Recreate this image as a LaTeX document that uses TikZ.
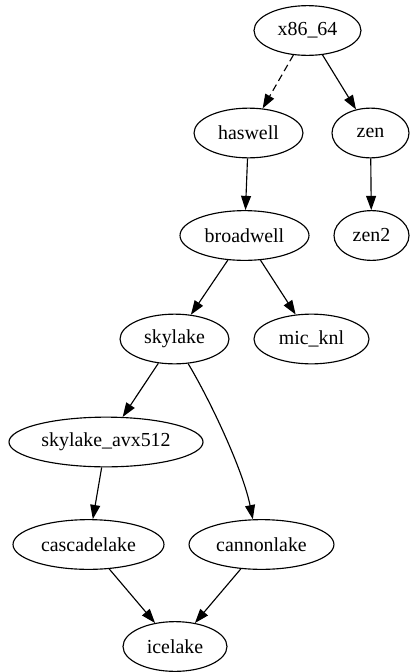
\documentclass[tikz,border=0pt]{standalone}
\usepackage{fontspec}
\setmainfont{Liberation Serif}
\usetikzlibrary{shapes.geometric,arrows.meta}
\begin{document}
\begin{tikzpicture}[x=0.704pt,y=-0.704pt,
  gnode/.style={draw,ellipse,line width=0.8pt,inner sep=0pt,minimum height=35pt,font=\fontsize{14}{16}\selectfont},
  edge/.style={line width=0.8pt,-{Triangle[length=10pt,width=7pt]}}]
\useasboundingbox (0,0) rectangle (409,672);
\node[gnode,minimum width=75.3pt] (x86) at (307.5,30.5) {x86\_64};
\node[gnode,minimum width=76.7pt] (has) at (248.5,133) {haswell};
\node[gnode,minimum width=54.2pt] (zen) at (370.5,133) {zen};
\node[gnode,minimum width=90.8pt] (bro) at (244.5,235.5) {broadwell};
\node[gnode,minimum width=52.8pt] (zen2) at (371.5,235.5) {zen2};
\node[gnode,minimum width=76.7pt] (sky) at (174.5,339) {skylake};
\node[gnode,minimum width=81pt] (mic) at (311.5,339) {mic\_knl};
\node[gnode,minimum width=136.6pt] (avx) at (106,442) {skylake\_avx512};
\node[gnode,minimum width=106.3pt] (cas) at (88.5,544.5) {cascadelake};
\node[gnode,minimum width=102pt] (can) at (261.5,544.5) {cannonlake};
\node[gnode,minimum width=73.2pt] (ice) at (175,646.5) {icelake};
\draw[edge,dash pattern=on 5pt off 3pt] (x86) -- (has);
\draw[edge] (x86) -- (zen);
\draw[edge] (has) -- (bro);
\draw[edge] (zen) -- (zen2);
\draw[edge] (bro) -- (sky);
\draw[edge] (bro) -- (mic);
\draw[edge] (sky) -- (avx);
\draw[edge] (sky.-61) .. controls (210,400) and (243,470) .. (can.109);
\draw[edge] (avx) -- (cas);
\draw[edge] (cas) -- (ice);
\draw[edge] (can) -- (ice);
\end{tikzpicture}
\end{document}
